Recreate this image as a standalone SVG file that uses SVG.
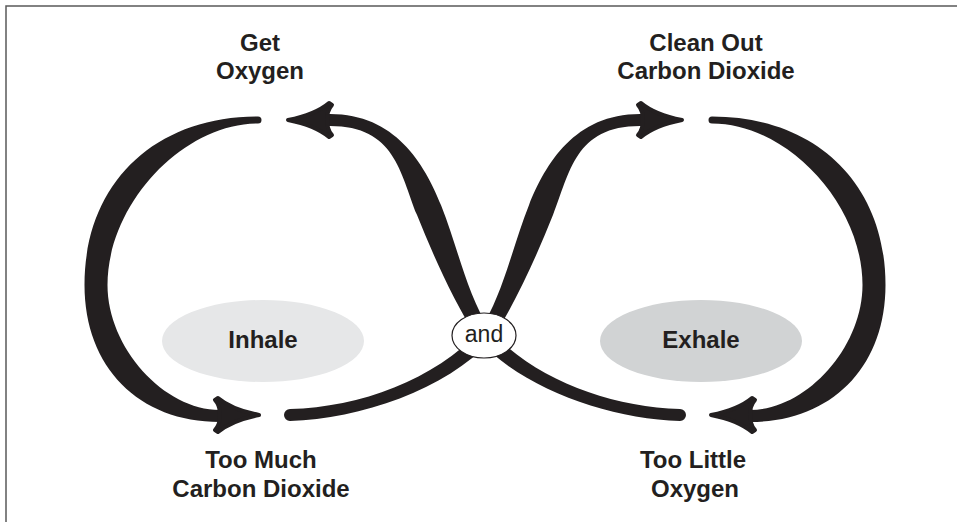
<svg xmlns="http://www.w3.org/2000/svg" width="957" height="522" viewBox="0 0 957 522">
<style>
.lbl{font-family:"Liberation Sans",Arial,sans-serif;font-weight:bold;font-size:24px;fill:#231f20;text-anchor:middle}
.and{font-family:"Liberation Sans",Arial,sans-serif;font-size:23px;fill:#231f20;text-anchor:middle}
.arr{fill:#231f20}
.hd{fill:#231f20;stroke:#231f20;stroke-width:4;stroke-linejoin:round}
</style>
<defs>
<path id="head" class="hd" d="M0,0 C-10,-2 -28,-6 -41,-17 L-44,-15 Q-38,-8 -40,0 Q-38,8 -44,15 L-41,17 C-28,6 -10,2 0,0 Z"/>
<g id="half">
<path class="arr" d="M258,116.5 C153.9,116.5 84.5,183.9 84.5,285 C84.5,367.2 138.7,422 220,422 L232,422 L232,410 L220,410 C163.75,410 107.5,347.5 107.5,285 C107.5,204.25 182.75,123.5 258,123.5 A3.5,3.5 0 0 0 258,116.5 Z"/>
<use href="#head" transform="translate(259,415)"/>
<path class="arr" d="M680,409 C610,407 535.5,379.9 489.5,329.9 L490.35,331 C466.35,293 457.76,246.98 441.06,205.18 C424.36,163.38 395,114 330,114 L318,114 L318,126 L330,126 C395,126 400.24,173.02 416.94,214.82 C433.64,256.62 453.65,301 477.65,339 L478.5,340.1 C524.5,390.1 610,419 680,421 A6,6 0 0 0 680,409 Z"/>
<use href="#head" transform="translate(288,120) scale(-1,1)"/>
</g>
</defs>
<rect x="6" y="6" width="1000" height="600" fill="#fff" stroke="#5a5a5a" stroke-width="1.5"/>
<g id="connectors">
<use href="#half"/>
<use href="#half" transform="matrix(-1 0 0 1 970 0)"/>
</g>
<g id="inhale">
<ellipse cx="263" cy="341" rx="101" ry="41" fill="#e6e7e8"/>
<text class="lbl" x="263" y="348">Inhale</text>
</g>
<g id="exhale">
<ellipse cx="701" cy="341" rx="101" ry="41" fill="#d1d3d4"/>
<text class="lbl" x="701" y="348">Exhale</text>
</g>
<g id="and">
<ellipse cx="484" cy="335.5" rx="32" ry="22.5" fill="#fff" stroke="#231f20" stroke-width="1.2"/>
<text class="and" x="484" y="342">and</text>
</g>
<g id="get-oxygen">
<text class="lbl" x="260" y="51">Get</text>
<text class="lbl" x="260" y="79">Oxygen</text>
</g>
<g id="clean-out">
<text class="lbl" x="706" y="51">Clean Out</text>
<text class="lbl" x="706" y="79">Carbon Dioxide</text>
</g>
<g id="too-much">
<text class="lbl" x="261" y="468">Too Much</text>
<text class="lbl" x="261" y="497">Carbon Dioxide</text>
</g>
<g id="too-little">
<text class="lbl" x="693" y="468">Too Little</text>
<text class="lbl" x="695" y="497">Oxygen</text>
</g>
</svg>
